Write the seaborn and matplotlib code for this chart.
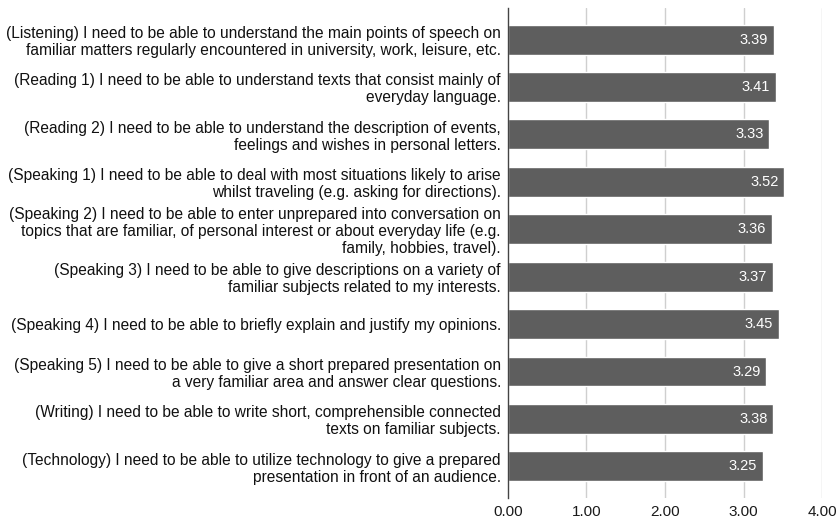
import matplotlib
matplotlib.use("Agg")
import matplotlib.pyplot as plt
import seaborn as sns
import pandas as pd

labels = [
    "(Listening) I need to be able to understand the main points of speech on\nfamiliar matters regularly encountered in university, work, leisure, etc.",
    "(Reading 1) I need to be able to understand texts that consist mainly of\neveryday language.",
    "(Reading 2) I need to be able to understand the description of events,\nfeelings and wishes in personal letters.",
    "(Speaking 1) I need to be able to deal with most situations likely to arise\nwhilst traveling (e.g. asking for directions).",
    "(Speaking 2) I need to be able to enter unprepared into conversation on\ntopics that are familiar, of personal interest or about everyday life (e.g.\nfamily, hobbies, travel).",
    "(Speaking 3) I need to be able to give descriptions on a variety of\nfamiliar subjects related to my interests.",
    "(Speaking 4) I need to be able to briefly explain and justify my opinions.",
    "(Speaking 5) I need to be able to give a short prepared presentation on\na very familiar area and answer clear questions.",
    "(Writing) I need to be able to write short, comprehensible connected\ntexts on familiar subjects.",
    "(Technology) I need to be able to utilize technology to give a prepared\npresentation in front of an audience.",
]
scores = [3.39, 3.41, 3.33, 3.52, 3.36, 3.37, 3.45, 3.29, 3.38, 3.25]
x_ticks = [0, 1, 2, 3, 4]
x_tick_labels = ["0.00", "1.00", "2.00", "3.00", "4.00"]

sns.set_theme(style="white")
plt.rcParams["font.family"] = ["Liberation Sans", "DejaVu Sans"]

df = pd.DataFrame({"item": labels, "score": scores})

fig = plt.figure(figsize=(8.38, 5.20), dpi=100)
ax = fig.add_axes([0.606, 0.042, 0.375, 0.943])

sns.barplot(data=df, x="score", y="item", orient="h", color="#5e5e5e",
            saturation=1, width=0.63, ax=ax, zorder=3)

ax.set_xlim(0, 4)
ax.set_ylim(9.67, -0.67)
ax.set_xticks(x_ticks)
ax.set_xticklabels(x_tick_labels, fontsize=11, color="#1a1a1a")
ax.set_yticks(range(len(labels)))
ax.set_yticklabels(labels, fontsize=11.2, color="#111111",
                   multialignment="right", linespacing=1.15)
ax.tick_params(axis="y", length=0, pad=5)
ax.tick_params(axis="x", length=0, pad=5)
ax.set_xlabel("")
ax.set_ylabel("")

for x in x_ticks[1:]:
    ax.axvline(x, color="#cfcfcf", lw=1.0, zorder=1)

for s in ["top", "right", "bottom"]:
    ax.spines[s].set_visible(False)
ax.spines["left"].set_color("#444444")
ax.spines["left"].set_linewidth(1.0)
ax.spines["left"].set_zorder(4)

for i, v in enumerate(scores):
    ax.text(v - 0.075, i, f"{v:.2f}", ha="right", va="center",
            color="white", fontsize=10.5, zorder=5)

fig.savefig("out.png", dpi=100, facecolor="white")
